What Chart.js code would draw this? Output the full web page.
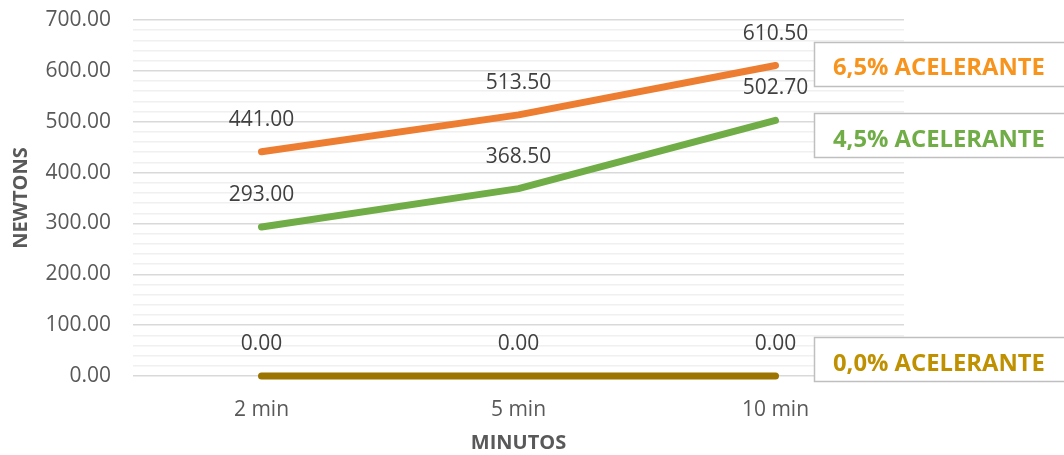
<!DOCTYPE html>
<html>
<head>
<meta charset="utf-8">
<script src="https://cdn.jsdelivr.net/npm/chart.js@4/dist/chart.umd.min.js"></script>
<style>
  html, body { margin: 0; padding: 0; background: #fff; }
  #wrap { width: 1064px; height: 455px; }
</style>
</head>
<body>
<div id="wrap"><canvas id="c" width="1064" height="455"></canvas></div>
<script>
// Tiempo de mezcla
const categories = ['2 min', '5 min', '10 min'];

// Resistencia (N) por porcentaje de acelerante
const seriesNames = ['0,0% ACELERANTE', '4,5% ACELERANTE', '6,5% ACELERANTE'];
const acel00 = [0.00, 0.00, 0.00];
const acel45 = [293.00, 368.50, 502.70];
const acel65 = [441.00, 513.50, 610.50];

// Estilo de cada serie
const lineColors = ['#9C7400', '#70AD47', '#ED7D31'];
const nameColors = ['#BF9000', '#70AD47', '#F7941D'];
const nameBoxShift = [-17, 15, -2];

const FONT = '"Open Sans", "Liberation Sans", sans-serif';

const valueLabels = {
  id: 'valueLabels',
  afterDatasetsDraw(chart) {
    const ctx = chart.ctx;
    ctx.save();
    ctx.font = '21px ' + FONT;
    ctx.fillStyle = '#404040';
    ctx.textAlign = 'center';
    ctx.textBaseline = 'middle';
    chart.data.datasets.forEach((ds, i) => {
      chart.getDatasetMeta(i).data.forEach((pt, j) => {
        ctx.fillText(ds.data[j].toFixed(2), pt.x, pt.y - 32);
      });
    });
    ctx.restore();
  }
};

const seriesNameBoxes = {
  id: 'seriesNameBoxes',
  afterDatasetsDraw(chart) {
    const ctx = chart.ctx;
    const area = chart.chartArea;
    ctx.save();
    chart.data.datasets.forEach((ds, i) => {
      const pts = chart.getDatasetMeta(i).data;
      const last = pts[pts.length - 1];
      const cy = last.y + nameBoxShift[i];
      const x0 = Math.round(area.right - 90);
      const h = 44;
      const top = Math.round(cy - h / 2);
      ctx.fillStyle = '#ffffff';
      ctx.fillRect(x0, top, 300, h);
      ctx.strokeStyle = '#BFBFBF';
      ctx.lineWidth = 1.5;
      ctx.strokeRect(x0 + 0.5, top + 0.5, 300, h);
      // fit the bold label to its box width
      let size = 22;
      ctx.font = 'bold ' + size + 'px ' + FONT;
      const w = ctx.measureText(ds.label).width;
      size = size * 212 / w;
      ctx.font = 'bold ' + size.toFixed(2) + 'px ' + FONT;
      ctx.fillStyle = nameColors[i];
      ctx.textAlign = 'left';
      ctx.textBaseline = 'middle';
      ctx.fillText(ds.label, x0 + 19, cy + 5);
    });
    ctx.restore();
  }
};

const datasets = [acel00, acel45, acel65].map((vals, i) => ({
  label: seriesNames[i],
  data: vals,
  borderColor: lineColors[i],
  backgroundColor: lineColors[i],
  borderWidth: 7,
  borderCapStyle: 'round',
  borderJoinStyle: 'round',
  pointRadius: 0,
  tension: 0,
  clip: false
}));

new Chart(document.getElementById('c'), {
  type: 'line',
  data: { labels: categories, datasets },
  plugins: [valueLabels, seriesNameBoxes],
  options: {
    responsive: false,
    animation: false,
    devicePixelRatio: 1,
    layout: { padding: { left: 0, right: 160, top: 20, bottom: 0 } },
    plugins: { legend: { display: false }, tooltip: { enabled: false } },
    scales: {
      x: {
        offset: true,
        grid: { display: false, drawTicks: false },
        border: { display: false },
        ticks: { color: '#595959', font: { family: FONT, size: 21 }, padding: 21 },
        title: {
          display: true, text: 'MINUTOS', color: '#595959',
          font: { family: FONT, size: 20, weight: 'bold' }, padding: { top: 4, bottom: 0 }
        },
        afterFit(scale) { scale.height = 79; }
      },
      y: {
        min: 0, max: 700,
        grid: {
          drawTicks: false,
          color: (c) => (c.tick && c.tick.value % 100 === 0) ? '#D9D9D9' : '#F0F0F0',
          lineWidth: 1.5
        },
        border: { display: false },
        ticks: {
          stepSize: 20, autoSkip: false,
          color: '#595959', font: { family: FONT, size: 21 }, padding: 22,
          callback: (v) => v % 100 === 0 ? v.toFixed(2) : ''
        },
        title: {
          display: true, text: 'NEWTONS', color: '#595959',
          font: { family: FONT, size: 20, weight: 'bold' }, padding: { top: 9, bottom: 0 }
        },
        afterFit(scale) {
          scale.width = 133;
          scale.paddingTop = 0;
          scale.paddingBottom = 0;
        }
      }
    }
  }
});
</script>
</body>
</html>
